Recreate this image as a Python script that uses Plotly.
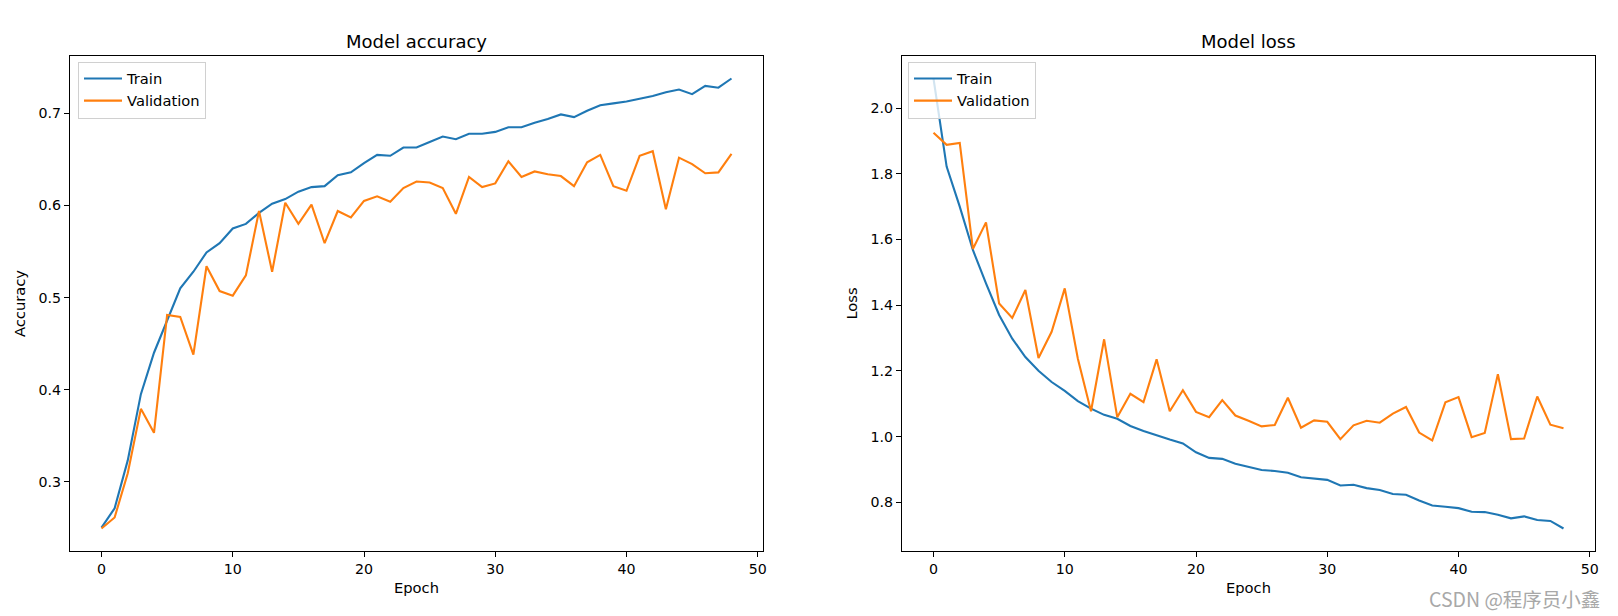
import plotly.graph_objects as go

epochs = list(range(49))

train_acc = [0.250, 0.271, 0.323, 0.395, 0.440, 0.474, 0.510, 0.528, 0.549, 0.559,
             0.575, 0.580, 0.592, 0.602, 0.607, 0.615, 0.620, 0.621, 0.633, 0.636,
             0.646, 0.655, 0.654, 0.663, 0.663, 0.669, 0.675, 0.672, 0.678, 0.678,
             0.680, 0.685, 0.685, 0.690, 0.694, 0.699, 0.696, 0.703, 0.709, 0.711,
             0.713, 0.716, 0.719, 0.723, 0.726, 0.721, 0.730, 0.728, 0.738]
val_acc = [0.249, 0.261, 0.309, 0.379, 0.353, 0.481, 0.479, 0.438, 0.534, 0.507,
           0.502, 0.524, 0.594, 0.528, 0.603, 0.580, 0.601, 0.559, 0.594, 0.587,
           0.605, 0.610, 0.604, 0.619, 0.626, 0.625, 0.619, 0.591, 0.631, 0.620,
           0.624, 0.648, 0.631, 0.637, 0.634, 0.632, 0.621, 0.647, 0.655, 0.621,
           0.616, 0.654, 0.659, 0.596, 0.652, 0.645, 0.635, 0.636, 0.656]

train_loss = [2.090, 1.822, 1.700, 1.568, 1.466, 1.370, 1.298, 1.242, 1.200, 1.166,
              1.139, 1.108, 1.085, 1.066, 1.054, 1.032, 1.017, 1.003, 0.991, 0.979,
              0.952, 0.935, 0.932, 0.917, 0.908, 0.898, 0.895, 0.890, 0.876, 0.872,
              0.868, 0.851, 0.853, 0.843, 0.837, 0.825, 0.823, 0.805, 0.790, 0.786,
              0.782, 0.771, 0.770, 0.762, 0.751, 0.757, 0.746, 0.743, 0.720]
val_loss = [1.925, 1.888, 1.894, 1.571, 1.652, 1.405, 1.361, 1.446, 1.239, 1.319,
            1.451, 1.237, 1.077, 1.296, 1.059, 1.130, 1.105, 1.235, 1.077, 1.141,
            1.075, 1.059, 1.111, 1.064, 1.048, 1.031, 1.035, 1.118, 1.027, 1.049,
            1.045, 0.992, 1.034, 1.048, 1.042, 1.070, 1.090, 1.012, 0.988, 1.104,
            1.120, 0.998, 1.011, 1.190, 0.992, 0.994, 1.122, 1.036, 1.025]

acc_ticks = [0.3, 0.4, 0.5, 0.6, 0.7]
loss_ticks = [0.8, 1.0, 1.2, 1.4, 1.6, 1.8, 2.0]
epoch_ticks = [0, 10, 20, 30, 40, 50]

BLUE = "#1f77b4"
ORANGE = "#ff7f0e"
FONT = "DejaVu Sans"


def padded(vals, frac=0.05):
    lo, hi = min(vals), max(vals)
    m = (hi - lo) * frac
    return [lo - m, hi + m]


fig = go.Figure()
fig.add_trace(go.Scatter(x=epochs, y=train_acc, mode="lines", name="Train",
                         line=dict(color=BLUE, width=2.1), xaxis="x", yaxis="y", legend="legend"))
fig.add_trace(go.Scatter(x=epochs, y=val_acc, mode="lines", name="Validation",
                         line=dict(color=ORANGE, width=2.1), xaxis="x", yaxis="y", legend="legend"))
fig.add_trace(go.Scatter(x=epochs, y=train_loss, mode="lines", name="Train",
                         line=dict(color=BLUE, width=2.1), xaxis="x2", yaxis="y2", legend="legend2"))
fig.add_trace(go.Scatter(x=epochs, y=val_loss, mode="lines", name="Validation",
                         line=dict(color=ORANGE, width=2.1), xaxis="x2", yaxis="y2", legend="legend2"))

# page body has an 8px default margin, so the figure is offset by 8px
OFF = 8
W, H = 1618 - OFF, 616 - OFF
ML, MR, MT, MB = 70 - OFF, 23, 56 - OFF, 65
PW = W - ML - MR
PH = H - MT - MB
d1 = [0, (763 - 70) / PW]
d2 = [(902 - 70) / PW, 1]

TICK = 14.2
LABEL = 14.7

axis_common = dict(showline=True, linecolor="black", linewidth=1, mirror=True,
                   ticks="outside", ticklen=5, tickwidth=1, tickcolor="black",
                   showgrid=False, zeroline=False,
                   tickfont=dict(family=FONT, size=TICK, color="black"))

legend_common = dict(xanchor="left", yanchor="top",
                     bgcolor="rgba(255,255,255,0.8)", bordercolor="#d0d0d0", borderwidth=1,
                     font=dict(family=FONT, size=LABEL), itemwidth=38)

xr = padded(epochs)
fig.update_layout(
    width=W, height=H,
    margin=dict(l=ML, r=MR, t=MT, b=MB),
    paper_bgcolor="white", plot_bgcolor="white",
    font=dict(family=FONT, size=TICK, color="black"),
    xaxis=dict(domain=d1, range=xr, tickvals=epoch_ticks, anchor="y",
               title=dict(text="Epoch", font=dict(family=FONT, size=LABEL), standoff=6), **axis_common),
    yaxis=dict(domain=[0, 1], range=padded(train_acc + val_acc), tickvals=acc_ticks,
               tickformat=".1f", anchor="x",
               title=dict(text="Accuracy", font=dict(family=FONT, size=LABEL), standoff=9), **axis_common),
    xaxis2=dict(domain=d2, range=xr, tickvals=epoch_ticks, anchor="y2",
                title=dict(text="Epoch", font=dict(family=FONT, size=LABEL), standoff=6), **axis_common),
    yaxis2=dict(domain=[0, 1], range=padded(train_loss + val_loss), tickvals=loss_ticks,
                tickformat=".1f", anchor="x2",
                title=dict(text="Loss", font=dict(family=FONT, size=LABEL), standoff=9), **axis_common),
    legend=dict(x=(78 - 70) / PW, y=1 - 5.5 / PH, **legend_common),
    legend2=dict(x=(908 - 70) / PW, y=1 - 5.5 / PH, **legend_common),
    showlegend=True,
)

fig.add_annotation(text="Model accuracy", x=(d1[0] + d1[1]) / 2, y=1, xref="paper", yref="paper",
                   xanchor="center", yanchor="bottom", yshift=2, showarrow=False,
                   font=dict(family=FONT, size=18, color="black"))
fig.add_annotation(text="Model loss", x=(d2[0] + d2[1]) / 2, y=1, xref="paper", yref="paper",
                   xanchor="center", yanchor="bottom", yshift=2, showarrow=False,
                   font=dict(family=FONT, size=18, color="black"))
fig.add_annotation(text="CSDN @程序员小鑫", x=1, y=0, xref="paper", yref="paper",
                   xanchor="right", yanchor="middle", xshift=7, yshift=-47, showarrow=False,
                   font=dict(family="Noto Sans CJK SC", size=19.5, color="#a8a8a8"))

fig.write_html("out.html")
